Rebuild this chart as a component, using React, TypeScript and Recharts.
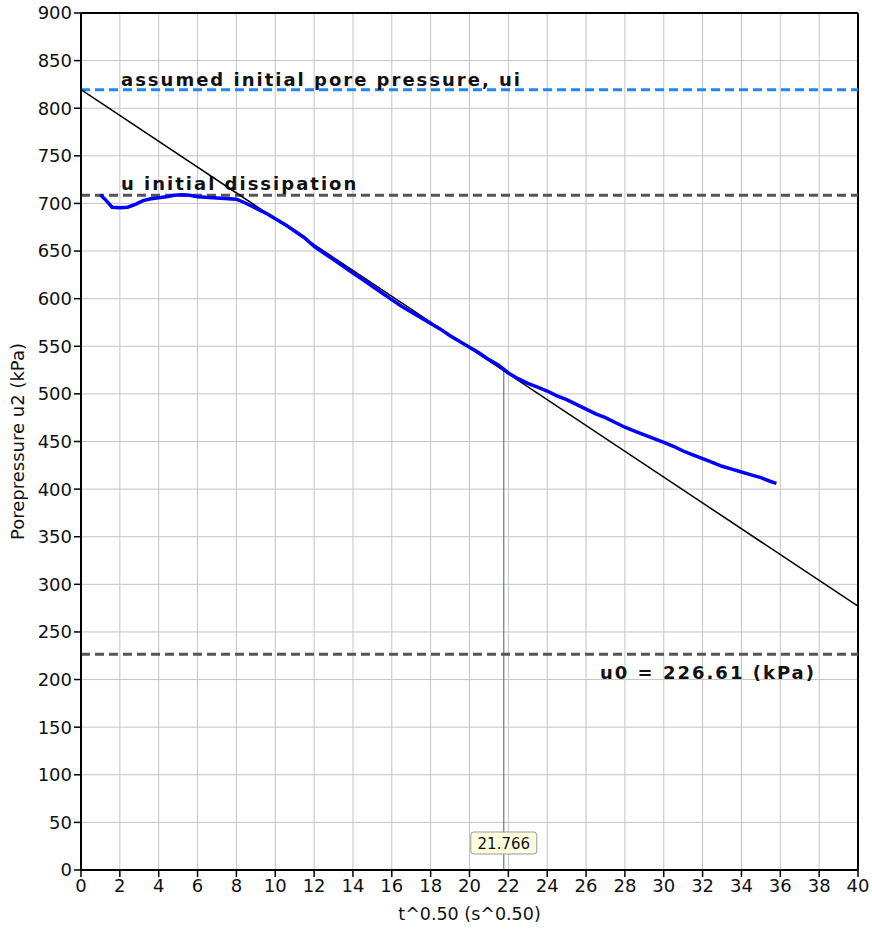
import { ComposedChart, Line, XAxis, YAxis, CartesianGrid, ReferenceLine } from 'recharts';

const tValues = [
  1.0, 1.3, 1.6, 2.0, 2.4, 2.8, 3.2, 3.6, 4.0, 4.4, 4.8, 5.2, 5.6, 6.0, 6.4, 6.8, 7.2, 7.6, 8.0, 8.4,
  8.8, 9.2, 9.6, 10.0, 10.5, 11.0, 11.5, 12.0, 12.5, 13.0, 13.5, 14.0, 14.5, 15.0, 15.5, 16.0, 16.5,
  17.0, 17.5, 18.0, 18.5, 19.0, 19.5, 20.0, 20.5, 21.0, 21.5, 22.0, 22.5, 23.0, 23.5, 24.0, 24.5,
  25.0, 25.5, 26.0, 26.5, 27.0, 27.5, 28.0, 28.5, 29.0, 29.5, 30.0, 30.5, 31.0, 31.5, 32.0, 32.5,
  33.0, 33.5, 34.0, 34.5, 35.0, 35.5, 35.8,
];
const u2Values = [
  709, 703, 696, 695.5, 696, 699, 703, 705, 706, 707, 708.5, 709, 708.5, 707, 706.5, 706, 705.5, 705, 704.5, 701,
  697, 693, 689, 684, 678, 671, 664, 655, 648, 641, 634, 627, 620, 613, 606, 599, 592,
  586, 580, 574, 568, 561, 555, 549, 543, 536, 530, 522, 516, 511, 507, 503, 498,
  494, 489, 484, 479, 475, 470, 465, 461, 457, 453, 449, 445, 440, 436, 432, 428,
  424, 421, 418, 415, 412, 408, 406,
];
const fitT = [0, 40];
const fitU = [819.5, 277];

const xTicks = [0, 2, 4, 6, 8, 10, 12, 14, 16, 18, 20, 22, 24, 26, 28, 30, 32, 34, 36, 38, 40];
const yTicks = [0, 50, 100, 150, 200, 250, 300, 350, 400, 450, 500, 550, 600, 650, 700, 750, 800, 850, 900];

const uiValue = 819.5;
const uDissipation = 708.5;
const u0Value = 226.61;
const t50 = 21.766;
const t50U = 525;

const curveData = tValues.map((t, i) => ({ t, u: u2Values[i] }));
const fitData = fitT.map((t, i) => ({ t, u: fitU[i] }));

const FONT = '"DejaVu Sans", Verdana, sans-serif';

function BoldLabel(props: any) {
  const { viewBox, text, dx, dy } = props;
  return (
    <text
      x={viewBox.x + dx}
      y={viewBox.y + dy}
      fontFamily={FONT}
      fontWeight="bold"
      fontSize={18}
      letterSpacing={2}
      fill="#111"
    >
      {text}
    </text>
  );
}

function ValueBox(props: any) {
  const { viewBox, text } = props;
  const cx = viewBox.x;
  const bottom = viewBox.y + viewBox.height;
  return (
    <g>
      <rect x={cx - 33} y={bottom - 38} width={66} height={22} rx={3} ry={3} fill="#ffffe0" stroke="#999" strokeWidth={1} />
      <text x={cx} y={bottom - 21} textAnchor="middle" fontFamily={FONT} fontSize={15} fill="#111">
        {text}
      </text>
    </g>
  );
}

export default function App() {
  return (
    <div style={{ position: 'absolute', left: 0, top: 0, width: 872, height: 934, background: '#fff' }}>
      <ComposedChart width={872} height={934} margin={{ top: 13, right: 14, left: 0, bottom: 0 }}>
        <CartesianGrid stroke="#c4c4c4" strokeWidth={1} />
        <XAxis
          type="number"
          dataKey="t"
          domain={[0, 40]}
          ticks={xTicks}
          interval={0}
          height={64}
          allowDataOverflow
          axisLine={{ stroke: '#000', strokeWidth: 2 }}
          tickLine={{ stroke: '#000', strokeWidth: 1.5 }}
          tickSize={7}
          tick={{ fill: '#111', fontSize: 18, fontFamily: FONT }}
          label={{ value: 't^0.50 (s^0.50)', position: 'insideBottom', offset: 14, style: { fill: '#111', fontSize: 17.5, fontFamily: FONT } }}
        />
        <YAxis
          type="number"
          domain={[0, 900]}
          ticks={yTicks}
          interval={0}
          width={81}
          allowDataOverflow
          axisLine={{ stroke: '#000', strokeWidth: 2 }}
          tickLine={{ stroke: '#000', strokeWidth: 1.5 }}
          tickSize={7}
          tick={{ fill: '#111', fontSize: 18, fontFamily: FONT }}
          label={{ value: 'Porepressure u2 (kPa)', angle: -90, position: 'insideLeft', offset: 18, style: { fill: '#111', fontSize: 18, fontFamily: FONT, textAnchor: 'middle' } }}
        />
        <ReferenceLine y={900} stroke="#000" strokeWidth={2} />
        <ReferenceLine x={40} stroke="#000" strokeWidth={2} />
        <ReferenceLine
          y={uiValue}
          stroke="#1e88f0"
          strokeWidth={3}
          strokeDasharray="9 5"
          label={<BoldLabel text="assumed initial pore pressure, ui" dx={40} dy={-4} />}
        />
        <ReferenceLine
          y={uDissipation}
          stroke="#555"
          strokeWidth={3}
          strokeDasharray="9 5"
          label={<BoldLabel text="u initial dissipation" dx={40} dy={-5} />}
        />
        <ReferenceLine
          y={u0Value}
          stroke="#555"
          strokeWidth={3}
          strokeDasharray="9 5"
          label={<BoldLabel text={`u0 = ${u0Value} (kPa)`} dx={519} dy={25} />}
        />
        <ReferenceLine
          segment={[{ x: t50, y: 0 }, { x: t50, y: t50U }]}
          stroke="#4a5a88"
          strokeWidth={1}
          label={<ValueBox text={String(t50)} />}
        />
        <Line
          data={fitData}
          dataKey="u"
          type="linear"
          stroke="#000"
          strokeWidth={1.5}
          dot={false}
          isAnimationActive={false}
        />
        <Line
          data={curveData}
          dataKey="u"
          type="linear"
          stroke="#0000ff"
          strokeWidth={3.5}
          dot={false}
          isAnimationActive={false}
        />
      </ComposedChart>
    </div>
  );
}
